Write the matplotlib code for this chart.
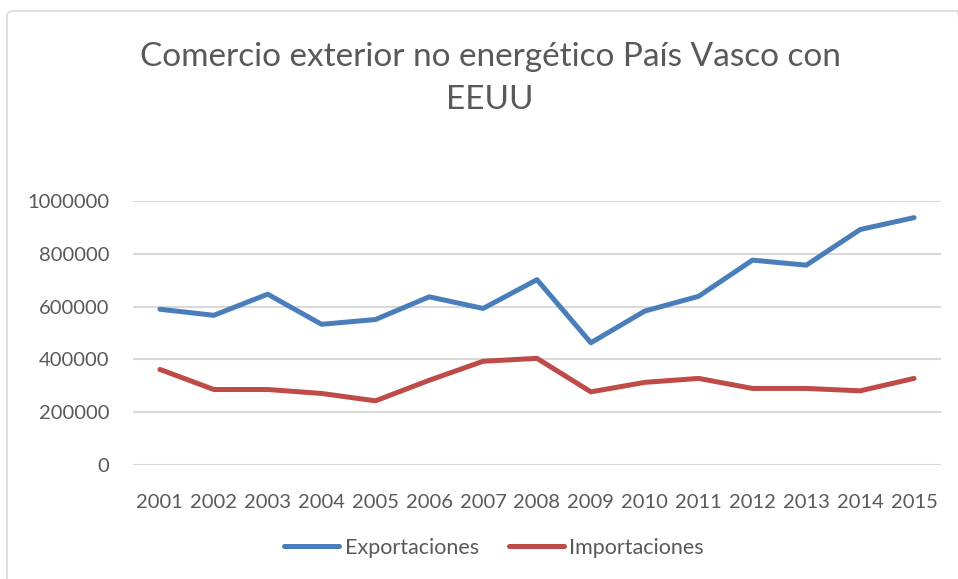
import matplotlib.pyplot as plt
from matplotlib.patches import FancyBboxPatch

years = ['2001', '2002', '2003', '2004', '2005', '2006', '2007', '2008',
         '2009', '2010', '2011', '2012', '2013', '2014', '2015']
exportaciones = [590000, 567000, 647000, 533000, 551000, 637000, 593000, 702000,
                 463000, 583000, 639000, 776000, 757000, 892000, 937000]
importaciones = [362000, 286000, 286000, 271000, 243000, 321000, 393000, 404000,
                 277000, 313000, 328000, 290000, 290000, 281000, 328000]
yticks = [0, 200000, 400000, 600000, 800000, 1000000]

plt.rcParams['font.family'] = ['Lato', 'DejaVu Sans']
txt = '#595959'

fig = plt.figure(figsize=(9.58, 5.79), dpi=100)

# chart border
border = FancyBboxPatch((7 / 958, -0.05), 1.0, 1.0 - 11 / 579 + 0.05,
                        boxstyle='round,pad=0,rounding_size=0.008',
                        transform=fig.transFigure, fill=False,
                        edgecolor='#d9d9d9', linewidth=1.2)
fig.patches.append(border)

ax = fig.add_axes([133 / 958, 1 - 465 / 579, (941 - 133) / 958, (465 - 201) / 579])
x = range(len(years))
ax.plot(x, exportaciones, color='#4a7ebb', linewidth=3.6, label='Exportaciones',
        solid_capstyle='round', solid_joinstyle='round')
ax.plot(x, importaciones, color='#be4b48', linewidth=3.6, label='Importaciones',
        solid_capstyle='round', solid_joinstyle='round')

ax.set_xlim(-0.5, len(years) - 0.5)
ax.set_ylim(0, 1000000)
ax.set_yticks(yticks)
ax.set_yticklabels([str(v) for v in yticks])
ax.set_xticks(list(x))
ax.set_xticklabels(years)
ax.grid(axis='y', color='#d9d9d9', linewidth=1.5)
ax.set_axisbelow(True)
for s in ax.spines.values():
    s.set_visible(False)
ax.tick_params(axis='both', length=0, labelsize=14.5, labelcolor=txt)
ax.tick_params(axis='x', pad=21)
ax.tick_params(axis='y', pad=17)

fig.text(490 / 958, 1 - 57 / 579, 'Comercio exterior no energético País Vasco con',
         ha='center', va='center', fontsize=24, color=txt)
fig.text(490 / 958, 1 - 100 / 579, 'EEUU',
         ha='center', va='center', fontsize=24, color=txt)

fig.legend(loc='center', bbox_to_anchor=(494 / 958, 1 - 548 / 579), ncol=2,
           frameon=False, fontsize=15.5, labelcolor=txt, handlelength=2.55,
           handletextpad=0.25, columnspacing=1.4)

fig.savefig('out.png', dpi=100)
